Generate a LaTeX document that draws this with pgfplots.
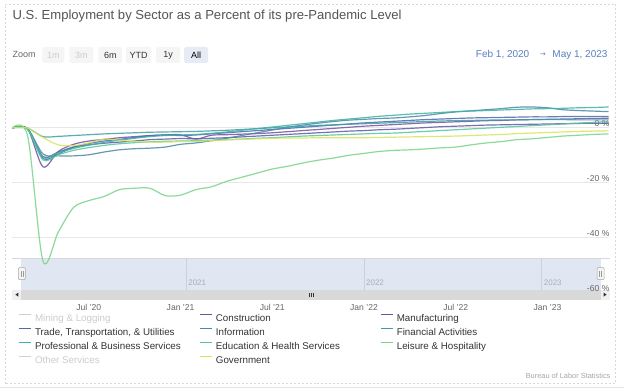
\documentclass[border=0pt]{standalone}
\usepackage{pgfplots}
\pgfplotsset{compat=1.18}
\usepackage{fontspec}
\setmainfont{Liberation Sans}
\newfontfamily\symfont{DejaVu Sans}
\definecolor{cCon}{HTML}{7550A0}
\definecolor{cMan}{HTML}{5C5AA6}
\definecolor{cTTU}{HTML}{4A6CAB}
\definecolor{cInf}{HTML}{4B87AB}
\definecolor{cFin}{HTML}{3E9EA6}
\definecolor{cPBS}{HTML}{3DB2A2}
\definecolor{cEdu}{HTML}{55C59C}
\definecolor{cLei}{HTML}{78D48A}
\definecolor{cGov}{HTML}{D5E45A}
\definecolor{cHid}{HTML}{D0D0D0}
\definecolor{txtHid}{HTML}{CCCCCC}
\definecolor{txt}{HTML}{333333}
\definecolor{ttl}{HTML}{555555}
\definecolor{lbl}{HTML}{666666}
\definecolor{navfill}{HTML}{E1E6F3}
\definecolor{navline}{HTML}{C9D0E2}
\definecolor{navtxt}{HTML}{A8AEBF}
\definecolor{gridc}{HTML}{E8E8E8}
\definecolor{btn}{HTML}{F5F5F5}
\definecolor{btnsel}{HTML}{E6EBF5}
\definecolor{datec}{HTML}{5A7FC0}
\definecolor{bordc}{HTML}{D8D8D8}
\newcommand\LE[1]{\makebox[164.5pt][l]{#1}}
\begin{document}
\begin{tikzpicture}[x=1pt,y=1pt]
\fill[white] (0,0) rectangle (624,392);
\draw[bordc, line width=0.6pt, dash pattern=on 2pt off 2pt] (4.5,8) rectangle (616,388);
\draw[bordc!70, line width=0.8pt] (0,4) -- (624,4);
% title
\node[anchor=west, text=ttl, font=\fontsize{13.1}{14}\selectfont, inner sep=0pt] at (12,376) {U.S. Employment by Sector as a Percent of its pre-Pandemic Level};
% zoom row
\node[anchor=west, text=lbl, font=\fontsize{9}{10}\selectfont, inner sep=0pt] at (12,337) {Zoom};
\begin{scope}[font=\fontsize{9}{10}\selectfont]
\fill[btn, rounded corners=1.5pt] (42,329) rectangle (64,345); \node[text=txtHid] at (53,337) {1m};
\fill[btn, rounded corners=1.5pt] (69,329) rectangle (93,345); \node[text=txtHid] at (81,337) {3m};
\fill[btn, rounded corners=1.5pt] (98,329) rectangle (122,345); \node[text=txt] at (110,337) {6m};
\fill[btn, rounded corners=1.5pt] (126,329) rectangle (151,345); \node[text=txt] at (138.5,337) {YTD};
\fill[btn, rounded corners=1.5pt] (156,329) rectangle (180,345); \node[text=txt] at (168,337) {1y};
\fill[btnsel, rounded corners=1.5pt] (184,329) rectangle (208,345); \node[text=black] at (196,337) {All};
\end{scope}
\node[anchor=west, text=datec, font=\fontsize{10}{11}\selectfont, inner sep=0pt] at (476,337) {Feb 1, 2020};
\node[text=datec, font=\symfont\fontsize{7}{8}\selectfont, inner sep=0pt] at (543,337) {→};
\node[anchor=east, text=datec, font=\fontsize{10}{11}\selectfont, inner sep=0pt] at (608,337) {May 1, 2023};
% navigator
\fill[navfill] (21,102) rectangle (601,133);
\draw[bordc, line width=0.6pt] (12,133) -- (610,133);
\foreach \xx/\yy in {186/2021,364/2022,542/2023}{
  \draw[navline, line width=0.5pt] (\xx,102) -- (\xx,133);
  \node[anchor=west, text=navtxt, font=\fontsize{8}{9}\selectfont, inner sep=0pt] at (\xx+2,109) {\yy};
}
\begin{axis}[
  at={(12pt,264pt)}, anchor=origin, scale only axis,
  width=597pt, height=211.75pt,
  xmin=0, xmax=39, ymin=-60, ymax=17,
  axis line style={draw=none},
  major tick length=0pt,
  ymajorgrids, grid style={gridc, line width=0.8pt},
  xtick={5,11,17,23,29,35},
  xticklabels={Jul '20, Jan '21, Jul '21, Jan '22, Jul '22, Jan '23},
  xticklabel style={text=lbl, font=\fontsize{8.6}{9}\selectfont, yshift=-8pt},
  ytick={-40,-20,0},
  yticklabels={-40 \%, -20 \%, 0 \%},
  yticklabel pos=right,
  yticklabel style={anchor=south east, inner sep=1pt, xshift=2pt, text=lbl, font=\fontsize{8.6}{9}\selectfont},
  legend columns=3,
  legend cell align=left,
  legend style={at={(axis description cs:0.01005,-0.0968)}, anchor=north west,
    draw=none, fill=none, inner sep=0pt, outer sep=0pt,
    nodes={inner sep=0pt, text height=8pt, text depth=2pt, font=\fontsize{9.8}{11}\selectfont, text=txt},
    /tikz/every odd column/.style={column sep=3.5pt},
    row sep=4pt},
  legend image code/.code={\draw[#1, line width=1.1pt, opacity=1] (0pt,3.2pt) -- (12pt,3.2pt); \path (0pt,0pt);},
  every axis plot/.append style={line width=1.2pt, smooth, tension=0.5, opacity=0.85},
]
\addlegendimage{cHid}
\addlegendentry{\LE{\textcolor{txtHid}{Mining \& Logging}}}
\addplot[cCon] coordinates {(0,0) (1,-0.4) (2,-14.2) (3,-8.6) (4,-6) (5,-4.8) (6,-4.2) (7,-3.6) (8,-3.2) (9,-2.8) (10,-2.6) (11,-2.5) (12,-4.1) (13,-2.7) (14,-2.5) (15,-2.3) (16,-2.1) (17,-1.8) (18,-1.4) (19,-1) (20,-0.6) (21,-0.2) (22,0.2) (23,0.6) (24,0.9) (25,1.2) (26,1.5) (27,1.8) (28,2.0) (29,2.2) (30,2.4) (31,2.6) (32,2.7) (33,2.9) (34,3.0) (35,3.1) (36,3.2) (37,3.3) (38,3.4) (39,3.5)};
\addlegendentry{\LE{Construction}}
\addplot[cMan] coordinates {(0,0) (1,-0.3) (2,-10.5) (3,-8.8) (4,-7) (5,-6.2) (6,-5.6) (7,-5.2) (8,-4.8) (9,-4.3) (10,-4.1) (11,-3.9) (12,-4) (13,-3.8) (14,-3.6) (15,-3.3) (16,-3) (17,-2.7) (18,-2.4) (19,-2.1) (20,-1.8) (21,-1.5) (22,-1.2) (23,-1) (24,-0.7) (25,-0.5) (26,-0.2) (27,0.1) (28,0.4) (29,0.6) (30,0.8) (31,1.0) (32,1.1) (33,1.2) (34,1.3) (35,1.4) (36,1.5) (37,1.6) (38,1.7) (39,1.7)};
\addlegendentry{\LE{Manufacturing}}
\addplot[cTTU] coordinates {(0,0) (1,-0.5) (2,-11.2) (3,-9.5) (4,-7) (5,-5.7) (6,-4.8) (7,-4.2) (8,-3.5) (9,-2.9) (10,-2.6) (11,-2.8) (12,-2.6) (13,-2.2) (14,-1.8) (15,-1.4) (16,-1.0) (17,-0.6) (18,-0.2) (19,0.2) (20,0.6) (21,1.0) (22,1.4) (23,1.8) (24,2.1) (25,2.4) (26,2.7) (27,3.0) (28,3.2) (29,3.4) (30,3.6) (31,3.7) (32,3.8) (33,3.9) (34,4.0) (35,4.0) (36,4.1) (37,4.1) (38,4.1) (39,4.1)};
\addlegendentry{\LE{Trade, Transportation, \& Utilities}}
\addplot[cInf] coordinates {(0,0) (1,-0.4) (2,-9.5) (3,-10.2) (4,-10.2) (5,-9.8) (6,-8.8) (7,-8) (8,-7.6) (9,-7.4) (10,-7) (11,-6) (12,-5.5) (13,-4.7) (14,-3.8) (15,-2.8) (16,-1.8) (17,-0.8) (18,0.2) (19,1.0) (20,1.7) (21,2.3) (22,2.8) (23,3.1) (24,3.4) (25,3.6) (26,4.0) (27,4.5) (28,5.2) (29,5.8) (30,6.2) (31,6.6) (32,7.0) (33,7.5) (34,7.6) (35,7.3) (36,6.6) (37,6.3) (38,6.1) (39,5.9)};
\addlegendentry{\LE{Information}}
\addplot[cFin] coordinates {(0,0) (1,-0.1) (2,-3.2) (3,-3.1) (4,-2.8) (5,-2.5) (6,-2.2) (7,-2) (8,-1.8) (9,-1.6) (10,-1.5) (11,-1.4) (12,-1.3) (13,-1.1) (14,-0.9) (15,-0.6) (16,-0.3) (17,0) (18,0.3) (19,0.6) (20,0.9) (21,1.1) (22,1.3) (23,1.5) (24,1.7) (25,1.9) (26,2.1) (27,2.3) (28,2.5) (29,2.6) (30,2.7) (31,2.8) (32,2.9) (33,2.9) (34,3.0) (35,3.0) (36,3.0) (37,2.9) (38,2.9) (39,2.9)};
\addlegendentry{\LE{Financial Activities}}
\addplot[cPBS] coordinates {(0,0) (1,-0.4) (2,-10.8) (3,-9) (4,-7.5) (5,-6.3) (6,-5.3) (7,-4.5) (8,-3.8) (9,-3.2) (10,-2.8) (11,-2.6) (12,-2.4) (13,-2) (14,-1.5) (15,-0.9) (16,-0.3) (17,0.3) (18,0.9) (19,1.5) (20,2.1) (21,2.7) (22,3.2) (23,3.7) (24,4.2) (25,4.6) (26,5.0) (27,5.3) (28,5.6) (29,5.9) (30,6.1) (31,6.3) (32,6.5) (33,6.7) (34,6.9) (35,7.0) (36,7.1) (37,7.3) (38,7.4) (39,7.6)};
\addlegendentry{\LE{Professional \& Business Services}}
\addplot[cEdu] coordinates {(0,0) (1,-0.5) (2,-11.7) (3,-9.8) (4,-8.2) (5,-7.2) (6,-6.4) (7,-5.8) (8,-5.4) (9,-5.1) (10,-4.9) (11,-4.8) (12,-4.7) (13,-4.5) (14,-4.3) (15,-4.1) (16,-3.8) (17,-3.6) (18,-3.3) (19,-3.0) (20,-2.8) (21,-2.6) (22,-2.4) (23,-2.2) (24,-2.0) (25,-1.9) (26,-1.6) (27,-1.3) (28,-1.0) (29,-0.7) (30,-0.4) (31,-0.1) (32,0.2) (33,0.5) (34,0.8) (35,1.1) (36,1.4) (37,1.7) (38,2.0) (39,2.3)};
\addlegendentry{\LE{Education \& Health Services}}
\addplot[cLei] coordinates {(0,0) (1,-3) (2,-48.5) (3,-38) (4,-29) (5,-26.5) (6,-25) (7,-22.5) (8,-22) (9,-22) (10,-24.7) (11,-24.5) (12,-22.5) (13,-21.5) (14,-19.5) (15,-18) (16,-16.5) (17,-15) (18,-14) (19,-12.8) (20,-11.8) (21,-11) (22,-10) (23,-9.3) (24,-8.6) (25,-8.2) (26,-8) (27,-7.7) (28,-7.3) (29,-7) (30,-6.2) (31,-5.5) (32,-5) (33,-4.3) (34,-4) (35,-3.5) (36,-3) (37,-2.7) (38,-2.4) (39,-2.2)};
\addlegendentry{\LE{Leisure \& Hospitality}}
\addlegendimage{cHid}
\addlegendentry{\LE{\textcolor{txtHid}{Other Services}}}
\addplot[cGov] coordinates {(0,0) (1,-0.1) (2,-3.5) (3,-6.2) (4,-6.5) (5,-5.5) (6,-4.1) (7,-4.5) (8,-5) (9,-5.2) (10,-5.2) (11,-5) (12,-4.9) (13,-4.7) (14,-4.4) (15,-4.2) (16,-4.0) (17,-3.8) (18,-3.7) (19,-3.7) (20,-3.6) (21,-3.6) (22,-3.6) (23,-3.6) (24,-3.5) (25,-3.4) (26,-3.3) (27,-3.2) (28,-3.1) (29,-3.0) (30,-2.8) (31,-2.6) (32,-2.4) (33,-2.1) (34,-1.9) (35,-1.7) (36,-1.5) (37,-1.3) (38,-1.2) (39,-1.1)};
\addlegendentry{\LE{Government}}
\end{axis}
% scrollbar
\fill[gray!30] (12,92) rectangle (610,102);
\fill[gray!12] (12,92) rectangle (21,102);
\fill[gray!12] (601,92) rectangle (610,102);
\fill[txt] (15,97) -- (18,99) -- (18,95) -- cycle;
\fill[txt] (607,97) -- (604,99) -- (604,95) -- cycle;
\foreach \xx in {309,311,313}{\draw[txt, line width=0.5pt] (\xx,95) -- (\xx,99);}
% handles
\foreach \xx in {21.5,601}{
  \filldraw[fill=gray!8, draw=gray!70, line width=0.5pt, rounded corners=1pt] (\xx-3.5,112) rectangle (\xx+3.5,124);
  \draw[gray!80, line width=0.4pt] (\xx-1,115) -- (\xx-1,121) (\xx+1,115) -- (\xx+1,121);
}
\node[anchor=south east, inner sep=1pt, text=lbl, font=\fontsize{8.6}{9}\selectfont] at (611,99) {-60 \%};
\node[anchor=base east, inner sep=0pt, text=gray!70, font=\fontsize{7.4}{8}\selectfont] at (611,12.7) {Bureau of Labor Statistics};
\end{tikzpicture}
\end{document}
